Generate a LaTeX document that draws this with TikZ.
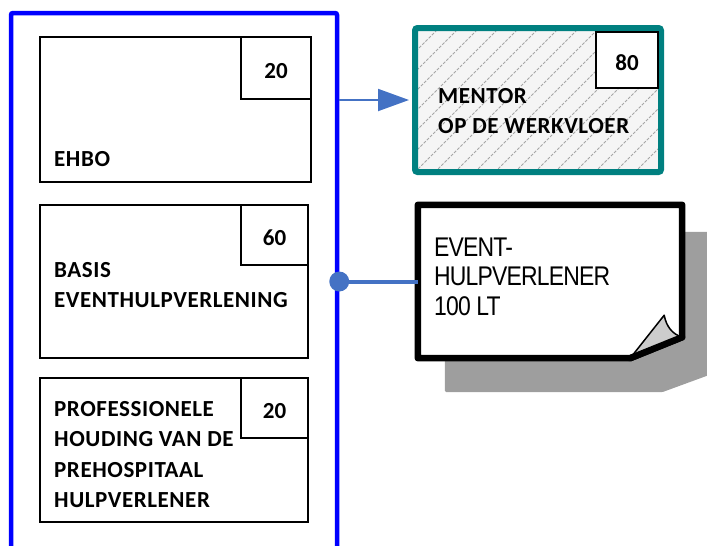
\documentclass[tikz,border=0pt]{standalone}
\usepackage{fontspec}
\usetikzlibrary{arrows.meta,calc}
\newfontfamily\labfont{Carlito}[LetterSpace=2.5]
\newfontfamily\numfont{Carlito}
\newfontfamily\narrowfont{Liberation Sans}[FakeStretch=0.85,LetterSpace=-3]
\definecolor{conncol}{RGB}{68,114,196}
\definecolor{tealcol}{RGB}{0,128,128}
\definecolor{shadowcol}{RGB}{158,158,158}
\definecolor{flapcol}{RGB}{204,204,204}
\tikzset{
  course/.style={draw=black, line width=1.5pt, inner sep=0pt, fill=white},
  numbox/.style={draw=black, line width=1.5pt, inner sep=0pt, fill=white,
    font=\numfont\bfseries\fontsize{23}{23}\selectfont, text height=20pt, text depth=0pt},
  lab/.style={anchor=base west, inner sep=0pt, font=\labfont\bfseries\fontsize{23}{23}\selectfont},
  nlab/.style={anchor=base west, inner sep=0pt, font=\narrowfont\fontsize{27}{27}\selectfont},
  conn/.style={draw=conncol, line width=2pt},
  hatchline/.style={draw=gray!70, line width=1pt, dash pattern=on 3pt off 1.5pt},
}
\begin{document}
\begin{tikzpicture}[x=1pt,y=-1pt]
\useasboundingbox (0,0) rectangle (707,546);
\clip (0,0) rectangle (707,546);
% container
\node[draw=blue, line width=4.5pt, rounded corners=2pt, minimum width=326pt, minimum height=554pt, inner sep=0pt] (grp) at (174,290) {};
% course boxes
\node[course, minimum width=271pt, minimum height=145pt] (b1) at (175.5,109.5) {};
\node[numbox, minimum width=70pt, minimum height=62pt] (n1) at (276,68) {20};
\node[lab] (t1) at (54,166) {EHBO};

\node[course, minimum width=268pt, minimum height=153pt] (b2) at (174,281.5) {};
\node[numbox, minimum width=67pt, minimum height=60pt] (n2) at (274.5,235) {60};
\node[lab] (t2a) at (54,277) {BASIS};
\node[lab] (t2b) at (54,307) {EVENTHULPVERLENING};

\node[course, minimum width=268pt, minimum height=144pt] (b3) at (174,450) {};
\node[numbox, minimum width=67pt, minimum height=60pt] (n3) at (274.5,408) {20};
\node[lab] (t3a) at (54,416) {PROFESSIONELE};
\node[lab] (t3b) at (54,446) {HOUDING VAN DE};
\node[lab] (t3c) at (54,477) {PREHOSPITAAL};
\node[lab] (t3d) at (54,507) {HULPVERLENER};

% mentor
\node[draw=tealcol, line width=6pt, rounded corners=2.5pt, fill=gray!8, inner sep=0pt,
  minimum width=246pt, minimum height=144pt,
  path picture={
    \foreach \k in {-160,-140,...,260}
      \draw[hatchline] ($(path picture bounding box.south west)+(\k,0)$) -- ++(150,-150);
  }] (m) at (538,100) {};
\node[numbox, minimum width=62pt, minimum height=56pt] (nm) at (627,60) {80};
\node[lab] (tm1) at (438,103) {MENTOR};
\node[lab] (tm2) at (438,133) {OP DE WERKVLOER};

% event note
\node[minimum width=264pt, minimum height=153pt, inner sep=0pt] (ev) at (550,281.5) {};
\fill[shadowcol, rounded corners=1.5pt]
  ($(ev.north west)+(27,27)$) -- ($(ev.north east)+(40,27)$) -- ($(ev.south east)+(40,12)$)
  -- ($(ev.south east)+(-20,34)$) -- ($(ev.south west)+(27,34)$) -- cycle;
\draw[line width=6.5pt, fill=white, line join=round]
  (ev.north west) -- (ev.north east) -- ($(ev.south east)+(0,-21)$)
  -- ($(ev.south east)+(-52,0)$) -- (ev.south west) -- cycle;
\draw[line width=1.5pt, fill=flapcol, line join=round]
  ($(ev.south east)+(-52,0)$) -- ($(ev.south east)+(-18,-43)$)
  .. controls ($(ev.south east)+(-16,-32)$) and ($(ev.south east)+(-10,-24)$) .. ($(ev.south east)+(0,-21)$);
\draw[line width=6.5pt, line cap=round] ($(ev.south east)+(-52,0)$) -- ($(ev.south east)+(0,-21)$);
\node[nlab] (e1) at (434,256) {EVENT-};
\node[nlab] (e2) at (434,285) {HULPVERLENER};
\node[nlab] (e3) at (434,315) {100 LT};

% connectors
\draw[conn, shorten >=3pt, -{Triangle[length=31pt,width=22pt]}] (m.west -| grp.east) -- (m.west);
\coordinate (dot) at (ev.west -| grp.east);
\draw[conn, line width=4pt] (dot) -- (ev.west);
\fill[conncol] (dot) circle (10);
\end{tikzpicture}
\end{document}
